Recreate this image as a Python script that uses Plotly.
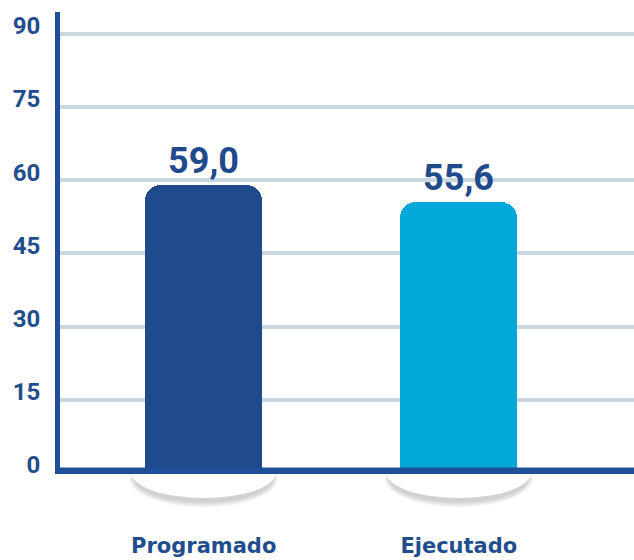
import plotly.graph_objects as go

categories = ["Programado", "Ejecutado"]
values = [59.0, 55.6]
bar_colors = ["#1f4a8c", "#02a8d7"]
y_ticks = [0, 15, 30, 45, 60, 75, 90]

W, H = 634, 560
ML, MR, MT, MB = 60, 0, 12, 87
XR = [-0.5633, 1.6868]
YR = [0, 94.45]
BAR_W = 0.46

PW = W - ML - MR
PH = H - MT - MB

fig = go.Figure()
fig.add_trace(go.Bar(
    x=list(range(len(categories))), y=values,
    marker=dict(color=bar_colors, cornerradius=16, line=dict(width=0)),
    width=BAR_W,
    texttemplate="%{y:.1f}", textposition="outside",
    textfont=dict(family="Roboto", size=36, color="#1f4a8c", weight=700),
    cliponaxis=False,
    hoverinfo="skip",
))


def pxx(px):
    return px / PW


def pxy(py):
    return py / PH


shapes = []
for i in range(len(categories)):
    cx = (i - XR[0]) / (XR[1] - XR[0])
    half_w = pxx(72)
    yc = pxy(0)
    half_h = pxy(25)
    # soft shadow layers (offset downward)
    for k in range(7):
        off = pxy(-4)
        gx = pxx(k * 0.9)
        gy = pxy(k * 0.9)
        shapes.append(dict(type="circle", xref="paper", yref="paper",
                           x0=cx - half_w - gx + pxx(3), x1=cx + half_w + gx - pxx(3),
                           y0=yc + off - half_h - gy, y1=yc + off + half_h + gy - pxy(3),
                           fillcolor="rgba(60,60,60,0.035)", line=dict(width=0), layer="below"))
    shapes.append(dict(type="circle", xref="paper", yref="paper",
                       x0=cx - half_w, x1=cx + half_w,
                       y0=yc - half_h, y1=yc + half_h,
                       fillcolor="white", line=dict(width=0), layer="below"))

# bottom axis line (sits slightly above the zero level, as in the original)
shapes.append(dict(type="line", xref="paper", yref="paper",
                   x0=pxx(-5), x1=1, y0=pxy(2.3), y1=pxy(2.3),
                   line=dict(color="#1f4f96", width=6.5), layer="above"))

fig.update_layout(
    width=W, height=H,
    margin=dict(l=ML, r=MR, t=MT, b=MB),
    paper_bgcolor="white", plot_bgcolor="rgba(0,0,0,0)",
    showlegend=False,
    separators=",.",
    shapes=shapes,
    bargap=0,
    xaxis=dict(
        range=XR, tickvals=list(range(len(categories))), ticktext=categories,
        showline=False, showgrid=False, zeroline=False, ticks="",
        tickfont=dict(family="DejaVu Sans", size=21, color="#1f4e8f", weight=700),
        ticklabelstandoff=58,
    ),
    yaxis=dict(
        range=YR, tickvals=y_ticks,
        showline=True, linecolor="#1f4f96", linewidth=5,
        showgrid=True, gridcolor="#c9d7e1", gridwidth=4,
        zeroline=False, ticks="",
        tickfont=dict(family="Roboto", size=24, color="#1f4e8f", weight=700),
        ticklabelstandoff=10,
        ticklabelshift=-8,
    ),
)

fig.write_html("out.html", config={"displayModeBar": False},
               post_script="document.body.style.margin='0';")
